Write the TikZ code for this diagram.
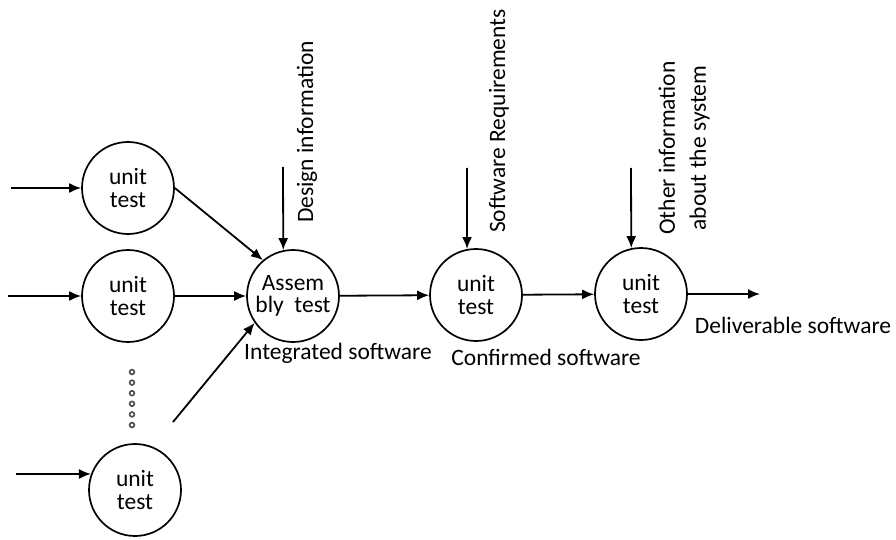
\documentclass[tikz,border=0pt]{standalone}
\usepackage{fontspec}
\setmainfont{Carlito}
\usetikzlibrary{arrows.meta,positioning}

\begin{document}
\begin{tikzpicture}[x=1pt,y=-1pt,
		test/.style={draw,circle,line width=1.7pt,minimum size=92pt,inner sep=0pt,align=center,font=\fontsize{23.5}{22.5}\selectfont},
		flow/.style={-{Latex[length=12pt,width=10pt]},line width=1.8pt},
		lbl/.style={font=\fontsize{23.5}{31}\selectfont,inner sep=0pt}]
		\useasboundingbox (0,0) rectangle (896,540);
		% test stages
		\node[test] (U1) at (128,188) {unit\\test};
		\node[test] (U2) at (128,296) {unit\\test};
		\node[test] (U3) at (135,490) {unit\\test};
		\node[test] (A) at (293,296) {Assem\\bly\ \ test};
		\node[test] (U4) at (476,295) {unit\\test};
		\node[test] (U5) at (641,294) {unit\\test};
		% free ends
		\coordinate (in1) at (11,188);
		\coordinate (in2) at (8,296);
		\coordinate (in3) at (16,474);
		\coordinate (up) at (173,422);
		\coordinate (d1) at (283,167);
		\coordinate (d2) at (467,168);
		\coordinate (d3) at (631,168);
		\coordinate (out) at (760,294);
		\foreach \y in {372,382.6,...,426}{
			\draw[line width=1.6pt,black!70] (132,\y) circle (2.4pt);
		}
		% connectors
		\draw[flow] (in1) -- (U1);
		\draw[flow] (in2) -- (U2);
		\draw[flow] (in3) -- (U3.160);
		\draw[flow] (U1.east) -- (A.130);
		\draw[flow] (U2) -- (A);
		\draw[flow] (up) -- (A.215);
		\draw[flow] (d1) -- (A.102);
		\draw[flow] (A) -- (U4);
		\draw[flow] (d2) -- (U4.101);
		\draw[flow] (U4) -- (U5);
		\draw[flow] (d3) -- (U5.102);
		\draw[flow] (U5) -- (out);
		% labels
		\node[lbl,rotate=90] (design) at (307,132) {Design information};
		\node[lbl,rotate=90] (req) at (499,121) {Software Requirements};
		\node[lbl,rotate=90,align=center] (other) at (684,148) {Other information\\about the system};
		\node[lbl] (integ) at (338,353) {Integrated software};
		\node[lbl] (conf) at (546,357) {Confirmed software};
		\node[lbl] (deliv) at (793,325) {Deliverable software};
	\end{tikzpicture}
\end{document}
